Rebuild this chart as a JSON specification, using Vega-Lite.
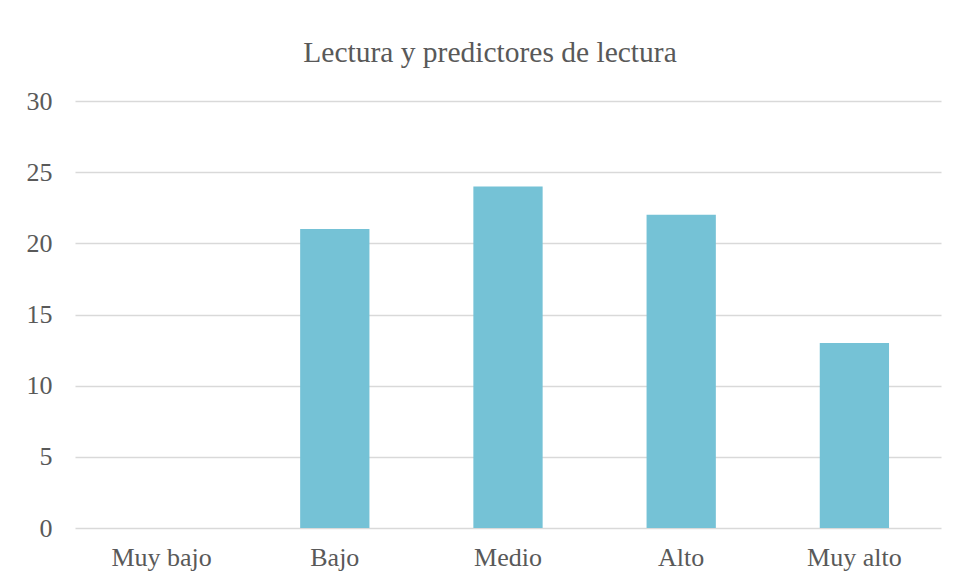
{
  "$schema": "https://vega.github.io/schema/vega-lite/v6.json",
  "autosize": {"type": "none"},
  "width": 866,
  "height": 427,
  "padding": {"left": 75, "top": 101, "right": 16, "bottom": 56},
  "background": "white",
  "title": {
    "text": "Lectura y predictores de lectura",
    "font": "Liberation Serif",
    "fontSize": 29.5,
    "fontWeight": "normal",
    "color": "#595959",
    "anchor": "middle",
    "frame": "group",
    "dx": -18,
    "offset": 20
  },
  "data": {
    "values": [
      {"nivel": "Muy bajo", "valor": 0},
      {"nivel": "Bajo", "valor": 21},
      {"nivel": "Medio", "valor": 24},
      {"nivel": "Alto", "valor": 22},
      {"nivel": "Muy alto", "valor": 13}
    ]
  },
  "mark": {"type": "bar", "color": "#75c2d6"},
  "encoding": {
    "x": {
      "field": "nivel",
      "type": "nominal",
      "sort": null,
      "scale": {"paddingInner": 0.6, "paddingOuter": 0.3},
      "axis": {
        "title": null,
        "labelAngle": 0,
        "domain": false,
        "ticks": false,
        "tickSize": 0,
        "labelPadding": 16,
        "labelFont": "Liberation Serif",
        "labelFontSize": 26,
        "labelColor": "#595959"
      }
    },
    "y": {
      "field": "valor",
      "type": "quantitative",
      "scale": {"domain": [0, 30], "nice": false},
      "axis": {
        "title": null,
        "values": [0, 5, 10, 15, 20, 25, 30],
        "domain": false,
        "ticks": false,
        "tickSize": 0,
        "labelPadding": 23,
        "grid": true,
        "gridColor": "#d9d9d9",
        "gridWidth": 1.5,
        "labelFont": "Liberation Serif",
        "labelFontSize": 26,
        "labelColor": "#595959"
      }
    }
  },
  "config": {
    "view": {"stroke": null}
  }
}
